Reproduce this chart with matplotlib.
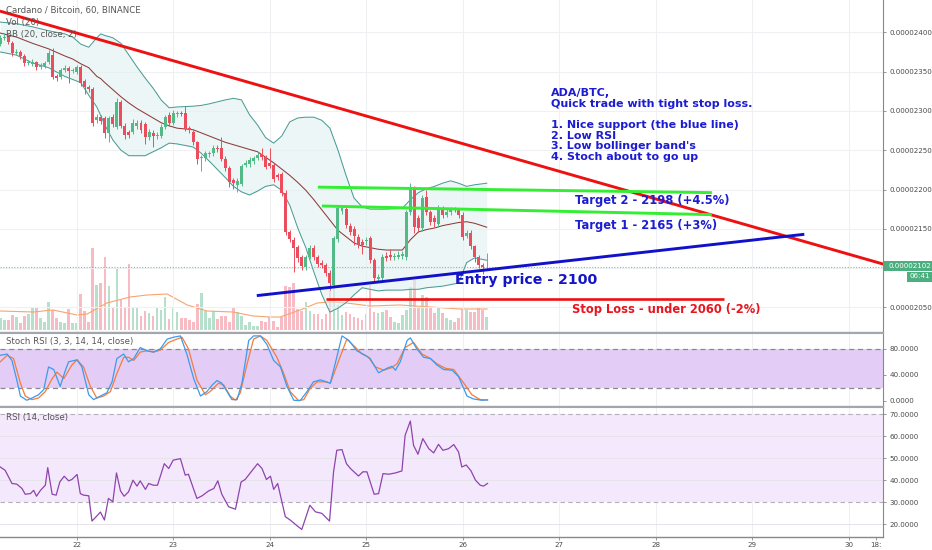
import matplotlib
matplotlib.use('Agg')
import matplotlib.pyplot as plt
from matplotlib.patches import Rectangle
import numpy as np

W, H = 932, 550

# hourly candles, index 0 = 21st 05:00 ; prices in satoshi (1e-8 BTC)
opens = [2385,2393,2394,2386,2374,2375,2370,2361,2360,2362,
         2356,2357,2362,2371,2344,2343,2352,2355,2351,2350,
         2356,2338,2330,2328,2288,2292,2291,2272,2292,2280,
         2311,2281,2273,2273,2281,2285,2283,2267,2272,2268,
         2268,2280,2295,2285,2296,2297,2297,2278,2273,2260,
         2240,2240,2245,2246,2253,2253,2239,2227,2212,2206,
         2207,2231,2232,2236,2240,2245,2241,2234,2231,2218,
         2220,2196,2146,2136,2127,2114,2101,2114,2126,2114,
         2107,2104,2094,2079,2137,2173,2175,2154,2150,2140,
         2133,2134,2138,2110,2086,2087,2115,2117,2114,2114,
         2115,2114,2171,2201,2164,2151,2190,2171,2164,2156,
         2176,2168,2171,2175,2174,2168,2141,2145,2128,2114,
         2104,2101]
closes = [2393,2394,2388,2374,2375,2370,2361,2362,2362,2356,
          2358,2361,2374,2343,2342,2352,2355,2351,2352,2356,
          2336,2330,2328,2285,2292,2287,2272,2291,2283,2311,
          2281,2269,2269,2285,2285,2276,2267,2273,2268,2269,
          2280,2292,2285,2297,2297,2296,2277,2276,2260,2239,
          2241,2246,2246,2253,2252,2239,2227,2210,2208,2211,
          2230,2234,2238,2240,2244,2241,2229,2230,2213,2216,
          2196,2146,2137,2126,2113,2103,2114,2126,2114,2105,
          2104,2094,2081,2138,2176,2176,2155,2146,2141,2129,
          2129,2136,2110,2087,2089,2114,2113,2114,2115,2117,
          2118,2171,2201,2152,2151,2189,2171,2159,2159,2176,
          2168,2171,2175,2174,2168,2140,2145,2128,2114,2104,
          2101,2102]
highs = [2397,2399,2397,2389,2379,2378,2372,2365,2366,2364,
         2361,2364,2378,2380,2347,2355,2358,2357,2355,2359,
         2358,2340,2333,2330,2296,2295,2294,2294,2296,2316,
         2314,2284,2276,2290,2289,2288,2286,2277,2276,2273,
         2283,2295,2298,2301,2300,2300,2306,2281,2276,2262,
         2244,2249,2249,2257,2256,2267,2242,2230,2215,2214,
         2233,2237,2241,2243,2248,2253,2244,2253,2234,2221,
         2222,2199,2149,2139,2130,2117,2117,2129,2129,2117,
         2110,2107,2097,2141,2180,2180,2178,2157,2153,2143,
         2137,2140,2141,2113,2093,2118,2120,2124,2119,2122,
         2122,2174,2208,2204,2168,2193,2199,2174,2168,2180,
         2179,2175,2178,2178,2177,2171,2149,2148,2130,2117,
         2107,2119]
lows = [2382,2390,2385,2370,2371,2366,2357,2358,2357,2352,
        2353,2354,2360,2340,2338,2340,2349,2336,2348,2347,
        2332,2322,2324,2281,2284,2283,2266,2260,2280,2277,
        2278,2264,2265,2270,2277,2272,2258,2263,2254,2264,
        2265,2277,2281,2282,2292,2293,2274,2272,2256,2233,
        2223,2236,2241,2243,2248,2236,2223,2203,2201,2197,
        2204,2228,2229,2233,2237,2238,2226,2227,2210,2212,
        2192,2142,2133,2095,2108,2098,2098,2111,2110,2101,
        2100,2090,2072,2076,2133,2169,2151,2142,2130,2125,
        2118,2130,2106,2083,2082,2084,2109,2110,2110,2111,
        2111,2110,2168,2145,2146,2147,2167,2155,2152,2152,
        2164,2165,2168,2171,2164,2136,2138,2124,2108,2100,
        2093,2098]
volumes = [12,10,10,15,13,7,14,16,22,23,
           12,8,28,20,12,8,7,21,7,7,
           36,19,8,82,45,47,73,44,22,62,
           30,23,66,22,22,14,19,17,14,22,
           20,33,11,22,18,12,12,10,8,26,
           37,19,12,19,11,14,14,8,22,18,
           14,5,8,4,4,9,8,13,9,3,
           13,44,43,47,21,19,28,19,16,16,
           11,16,40,45,25,15,18,16,13,12,
           10,16,45,18,17,18,20,13,8,7,
           15,20,43,50,23,35,33,23,17,23,
           17,12,10,8,12,21,20,18,18,22,
           20,13]

vol_ma_x = [0, 8.2, 13.1, 19.1, 21.6, 26.5, 32.3, 36.5, 41.5, 46.5, 51.4, 57.9,
            62.9, 67.1, 69.6, 74.6, 78.8, 82.0, 86.2, 92.0, 99.4, 106.9, 114.4, 121.1]
vol_ma = [19, 18, 20, 15, 16, 27, 33, 35, 36, 25, 19, 18,
          14, 13, 13, 20, 27, 28, 27, 24, 25, 23, 21, 21]

bb_x = [0, 4, 8, 12, 16, 18, 20, 22, 24, 25, 26, 28, 30, 32, 34, 36, 38, 40, 42, 44,
        48, 50, 52, 56, 58, 60, 62, 64, 66, 68, 70, 72, 74, 76, 78, 80, 82, 84, 86, 88,
        90, 92, 94, 96, 100, 102, 104, 106, 108, 110, 112, 114, 116, 118, 121]
bb_upper = [2413, 2411, 2407, 2402, 2398, 2394, 2385, 2381, 2393, 2398, 2396, 2393, 2386, 2371, 2356, 2342, 2329, 2314, 2304, 2305,
            2306, 2307, 2309, 2314, 2316, 2314, 2295, 2282, 2266, 2259, 2268, 2286, 2291, 2292, 2292, 2288, 2278, 2250, 2218, 2189,
            2178, 2175, 2175, 2175, 2176, 2187, 2196, 2201, 2204, 2208, 2211, 2208, 2204, 2206, 2208]
bb_mid = [2399, 2394, 2386, 2379, 2370, 2366, 2360, 2355, 2344, 2341, 2336, 2327, 2318, 2310, 2303, 2297, 2291, 2285, 2281, 2278,
          2276, 2272, 2268, 2260, 2257, 2254, 2251, 2248, 2241, 2234, 2226, 2218, 2209, 2199, 2187, 2174, 2161, 2148, 2140, 2132,
          2128, 2126, 2124, 2123, 2123, 2136, 2146, 2149, 2151, 2154, 2156, 2158, 2159, 2157, 2152]
bb_lower = [2375, 2371, 2361, 2355, 2344, 2340, 2336, 2320, 2305, 2294, 2282, 2263, 2250, 2243, 2243, 2243, 2248, 2253, 2259, 2258,
            2254, 2246, 2236, 2215, 2204, 2197, 2193, 2198, 2204, 2206, 2199, 2180, 2151, 2126, 2095, 2066, 2044, 2049, 2056, 2066,
            2075, 2073, 2071, 2072, 2072, 2073, 2073, 2075, 2076, 2077, 2079, 2081, 2107, 2113, 2110]

stoch_k_x = [0.0, 1.7, 2.9, 4.1, 5.0, 6.6, 7.9, 9.5, 10.8, 12.0, 13.3, 14.9, 16.2, 17.0, 19.1, 20.3, 22.0, 23.2, 24.9,
             26.5, 27.8, 29.0, 30.7, 31.9, 33.2, 34.8, 36.5, 38.1, 39.8, 41.5, 43.1, 44.8, 46.4, 48.1, 49.8, 51.4,
             52.7, 53.9, 55.1, 56.4, 57.6, 58.9, 60.1, 61.8, 63.0, 64.7, 66.3, 68.0, 69.7, 71.3, 73.0, 74.6, 76.3,
             77.9, 79.6, 82.1, 83.7, 85.0, 86.7, 88.7, 90.8, 92.0, 94.1, 96.2, 97.4, 98.3, 99.5, 101.2, 102.0,
             103.6, 105.3, 107.0, 108.6, 110.3, 112.4, 114.0, 116.1, 117.7, 119.8, 121.2]
stoch_k = [70, 72, 62, 32, 7, 0.5, 4, 9, 17, 52, 48, 22, 47, 60, 63, 52, 9, 1.5, 7,
           12, 29, 65, 72, 60, 65, 82, 77, 75, 80, 95, 98, 100, 72, 34, 7, 14,
           24, 31, 27, 14, 1.5, 1.5, 27, 93, 100, 100, 87, 62, 52, 22, 0.5, 0, 14,
           29, 32, 27, 67, 100, 93, 77, 70, 65, 43, 50, 53, 47, 60, 93, 97,
           80, 67, 65, 55, 48, 47, 37, 7, 2.5, 0.5, 1]
stoch_d_x = [0.0, 1.7, 3.3, 5.0, 6.2, 7.9, 9.5, 11.2, 12.9, 14.1, 15.8, 17.8, 19.1, 20.7, 22.4, 24.0, 25.7, 27.4,
             29.0, 30.7, 31.9, 33.2, 34.8, 36.5, 38.1, 39.8, 41.9, 43.9, 45.2, 46.8, 48.9, 51.0, 52.2, 54.3,
             55.6, 57.2, 58.5, 59.7, 61.4, 63.0, 64.7, 66.3, 68.8, 70.5, 72.1, 74.2, 75.5, 77.1, 78.8, 80.8,
             82.1, 84.2, 86.2, 87.9, 90.0, 91.6, 93.3, 95.4, 97.4, 98.7, 100.7, 102.8, 104.9, 107.0, 108.6,
             110.7, 112.8, 115.3, 117.3, 119.4, 121.2]
stoch_d = [60, 70, 65, 27, 7, 1.5, 4, 14, 34, 44, 34, 55, 63, 52, 22, 4, 7, 14,
           42, 67, 67, 62, 75, 77, 75, 78, 90, 95, 98, 80, 32, 9, 14, 27,
           24, 7, 0.5, 12, 57, 95, 100, 93, 67, 42, 14, 0, 1.5, 19, 29, 29,
           27, 62, 95, 85, 72, 67, 52, 47, 51, 57, 82, 90, 72, 65, 57,
           50, 48, 27, 9, 1.5, 1]

rsi_x = [0.0, 1.2, 2.9, 4.1, 5.4, 6.2, 7.5, 8.3, 9.0, 10.0, 11.2, 11.8, 12.9, 13.9, 14.8, 15.9, 17.0, 17.8,
         19.1, 19.9, 20.7, 22.0, 22.8, 24.0, 24.9, 25.9, 26.9, 28.0, 28.9, 29.9, 30.8, 31.9, 33.0, 34.0,
         34.8, 36.1, 36.9, 38.1, 39.1, 40.8, 41.9, 43.0, 44.8, 46.0, 46.8, 48.9, 50.2, 51.8, 53.1, 54.1,
         55.1, 56.8, 58.5, 59.9, 60.9, 62.4, 64.0, 65.1, 66.2, 67.2, 68.0, 69.0, 70.9, 72.1, 73.8, 75.0,
         77.0, 78.4, 80.0, 80.8, 81.9, 82.9, 83.7, 85.0, 86.1, 87.1, 89.1, 90.2, 91.2, 93.0, 94.1, 95.2,
         96.6, 98.3, 99.9, 100.7, 102.0, 102.8, 103.9, 105.1, 106.6, 107.8, 109.0, 110.1, 111.5, 112.8,
         114.0, 114.8, 115.9, 117.1, 118.2, 119.4, 120.2, 121.2]
rsi = [46.1, 44.6, 38.6, 38.3, 36.3, 33.7, 34.0, 35.5, 32.8, 35.5, 37.8, 45.8, 33.7, 33.3, 39.3, 41.9, 39.8, 40.4,
       42.7, 34.0, 33.3, 33.0, 21.5, 23.8, 25.6, 22.0, 31.8, 30.3, 43.4, 35.2, 32.8, 34.8, 40.1, 37.4,
       39.8, 35.9, 38.6, 37.8, 37.8, 47.6, 45.4, 49.2, 49.9, 42.4, 42.8, 31.8, 33.0, 35.2, 36.3, 39.8,
       33.7, 28.0, 26.9, 39.3, 40.4, 43.9, 47.6, 45.4, 40.4, 41.9, 35.9, 38.6, 23.5, 22.0, 19.4, 17.7,
       28.7, 25.7, 25.0, 23.5, 21.5, 43.9, 53.7, 54.0, 47.6, 45.4, 42.0, 43.9, 43.9, 33.7, 34.0, 43.1,
       42.8, 43.4, 44.3, 60.5, 67.0, 55.9, 51.9, 59.0, 54.4, 52.5, 56.4, 53.7, 54.4, 56.3,
       52.9, 46.1, 47.0, 44.3, 40.1, 37.8, 37.4, 38.6]

# drawings (x in hourly-candle index, y in satoshi)
trend_x = [-0.1, 219.7]
trend_y = [2427, 2105]
support_x = [63.8, 200.0]
support_y = [2065, 2143]
target2_x = [79.0, 177.0]
target2_y = [2203, 2196]
target1_x = [80.0, 177.0]
target1_y = [2179, 2168]
stop_x = [81.0, 179.9]
stop_y = [2061, 2061]
last_price = 2102

day_ticks = [19, 43, 67, 91, 115, 139, 163, 187, 211, 217.8]
day_labels = ['22', '23', '24', '25', '26', '27', '28', '29', '30', '18:']
price_ticks = [2050, 2100, 2150, 2200, 2250, 2300, 2350, 2400]
price_labels = ['0.00002050', '', '0.00002150', '0.00002200', '0.00002250',
                '0.00002300', '0.00002350', '0.00002400']
stoch_ticks = [0, 40, 80]
stoch_labels = ['0.0000', '40.0000', '80.0000']
rsi_ticks = [20, 30, 40, 50, 60, 70]
rsi_labels = ['20.0000', '30.0000', '40.0000', '50.0000', '60.0000', '70.0000']

assert len(opens) == len(closes) == len(highs) == len(lows) == len(volumes) == 122
assert len(bb_x) == len(bb_upper) == len(bb_mid) == len(bb_lower)
assert len(stoch_k_x) == len(stoch_k) and len(stoch_d_x) == len(stoch_d)
assert len(rsi_x) == len(rsi) and len(vol_ma_x) == len(vol_ma)

UP = '#53b987'
DN = '#eb4d5c'
GRID = '#eef0f3'
SEP = '#a3a6ad'
LBL = '#4a4a4a'

fig = plt.figure(figsize=(W / 100, H / 100), dpi=100)
fig.patch.set_facecolor('white')

def fr(x0, y0, x1, y1):
    return [x0 / W, 1 - y1 / H, (x1 - x0) / W, (y1 - y0) / H]

RX = 883.3
ax = fig.add_axes(fr(0, 0, RX, 332))
ax2 = fig.add_axes(fr(0, 333, RX, 405.5), sharex=ax)
ax3 = fig.add_axes(fr(0, 406.5, RX, 536.7), sharex=ax)

axv = ax.twinx()
ax.set_zorder(axv.get_zorder() + 1)
ax.patch.set_visible(False)
axv.patch.set_visible(False)

idx = np.arange(len(opens))
o = np.array(opens); c = np.array(closes)
hi = np.array(highs); lo = np.array(lows)
up = c >= o
cols = np.where(up, UP, DN)

# volume
vcols = np.where(up, '#b6e0cb', '#f7bcc3')
axv.bar(idx, volumes, width=0.65, color=vcols, linewidth=0, zorder=1)
axv.plot(vol_ma_x, vol_ma, color='#f7a46e', lw=0.8, zorder=2)
axv.set_ylim(-2, 330)
axv.set_yticks([])
for s in axv.spines.values():
    s.set_visible(False)

# grid
for t in day_ticks[:-1]:
    for a in (ax, ax2, ax3):
        a.axvline(t, color=GRID, lw=0.8, zorder=0)
for p in price_ticks:
    ax.axhline(p, color=GRID, lw=0.8, zorder=0)

# bollinger
ax.fill_between(bb_x, bb_lower, bb_upper, color='#e2f1f0', alpha=0.6, lw=0, zorder=1)
ax.plot(bb_x, bb_upper, color='#4c9c96', lw=0.75, zorder=1.5)
ax.plot(bb_x, bb_lower, color='#4c9c96', lw=0.75, zorder=1.5)
ax.plot(bb_x, bb_mid, color='#8e3b3b', lw=0.75, zorder=1.5)

# last price dotted line
ax.axhline(last_price, color='#53b987', ls=(0, (1, 1.5)), lw=0.8, alpha=0.8, zorder=2)

# candles
ax.vlines(idx, lo, hi, colors=cols, lw=0.7, zorder=3)
body_b = np.minimum(o, c)
body_h = np.maximum(np.abs(c - o), 0.9)
ax.bar(idx, body_h, bottom=body_b, width=0.74, color=cols, linewidth=0, zorder=3.1)

# drawings
ax.plot(trend_x, trend_y, color='#ee1111', lw=2.1, solid_capstyle='butt', zorder=4)
ax.plot(support_x, support_y, color='#1111cc', lw=2.1, solid_capstyle='butt', zorder=4)
ax.plot(target2_x, target2_y, color='#33ee33', lw=2.1, solid_capstyle='butt', zorder=4)
ax.plot(target1_x, target1_y, color='#33ee33', lw=2.1, solid_capstyle='butt', zorder=4)
ax.plot(stop_x, stop_y, color='#ee1111', lw=1.9, solid_capstyle='butt', zorder=4)

ax.set_xlim(-0.075, 219.65)
ax.set_ylim(2018.7, 2441.1)

# stoch rsi panel
ax2.axhspan(20, 80, color='#e3cdf7', lw=0, zorder=0.5)
ax2.axhline(80, color='#8a8794', ls=(0, (4, 3)), lw=0.9, zorder=1)
ax2.axhline(20, color='#8a8794', ls=(0, (4, 3)), lw=0.9, zorder=1)
ax2.plot(stoch_k_x, stoch_k, color='#3d9be9', lw=0.9, zorder=3)
ax2.plot(stoch_d_x, stoch_d, color='#f47c3c', lw=0.9, zorder=2.9)
ax2.set_ylim(-7.6, 104.5)

# rsi panel
ax3.axhspan(30, 70, color='#f4e9fc', lw=0, zorder=0.2)
for v in (20, 40, 50, 60):
    ax3.axhline(v, color='#e6e3ea', lw=0.7, zorder=0.5)
ax3.axhline(70, color='#b5aebb', ls=(0, (4, 3)), lw=0.8, zorder=1)
ax3.axhline(30, color='#b5aebb', ls=(0, (4, 3)), lw=0.8, zorder=1)
ax3.plot(rsi_x, rsi, color='#8e44ad', lw=0.9, zorder=3)
ax3.set_ylim(14.4, 73.6)

# axes styling
for a, ticks, labels in ((ax, price_ticks, price_labels),
                         (ax2, stoch_ticks, stoch_labels),
                         (ax3, rsi_ticks, rsi_labels)):
    a.set_facecolor('none')
    a.yaxis.tick_right()
    a.set_yticks(ticks)
    a.set_yticklabels(labels)
    a.tick_params(axis='y', right=True, left=False, labelright=True, labelleft=False,
                  labelsize=5.1, labelcolor=LBL, color='#888888', length=2.5, width=0.6, pad=2)
    a.tick_params(axis='x', bottom=False, labelbottom=False)
    a.spines['left'].set_visible(False)
    a.spines['right'].set_color('#888888')
    a.spines['right'].set_linewidth(0.8)
    a.spines['top'].set_visible(False)
    a.spines['bottom'].set_color(SEP)
    a.spines['bottom'].set_linewidth(1.0)

ax2.spines['top'].set_visible(True)
ax2.spines['top'].set_color(SEP)
ax3.spines['top'].set_visible(True)
ax3.spines['top'].set_color(SEP)
ax3.spines['bottom'].set_color('#888888')

ax3.set_xticks(day_ticks)
ax3.set_xticklabels(day_labels)
ax3.tick_params(axis='x', bottom=True, labelbottom=True, labelsize=5.1, labelcolor=LBL,
                color='#888888', length=2, width=0.6, pad=1.5)

def ftxt(x, y, s, **kw):
    fig.text(x / W, 1 - y / H, s, **kw)

lab = dict(fontsize=6.2, color='#555555', va='center', ha='left')
ftxt(6, 11, 'Cardano / Bitcoin, 60, BINANCE', **lab)
ftxt(6, 22.5, 'Vol (20)', **lab)
ftxt(6, 34, 'BB (20, close, 2)', **lab)
ftxt(6, 341.7, 'Stoch RSI (3, 3, 14, 14, close)', **lab)
ftxt(6, 417.7, 'RSI (14, close)', **lab)

BLUE = '#1c1cd2'
note = [('ADA/BTC,', 93.3), ('Quick trade with tight stop loss.', 103.9),
        ('1. Nice support (the blue line)', 125.0), ('2. Low RSI', 135.6),
        ("3. Low bollinger band's", 146.2), ('4. Stoch about to go up', 156.7)]
for s, y in note:
    ftxt(551, y, s, fontsize=8, fontweight='bold', color=BLUE, va='center', ha='left')
ftxt(575, 200.7, 'Target 2 - 2198 (+4.5%)', fontsize=8.3, fontweight='bold', color=BLUE, va='center')
ftxt(575, 225.7, 'Target 1 - 2165 (+3%)', fontsize=8.3, fontweight='bold', color=BLUE, va='center')
ftxt(455, 280, 'Entry price - 2100', fontsize=10.2, fontweight='bold', color='#1414c8', va='center')
ftxt(571.7, 309.3, 'Stop Loss - under 2060 (-2%)', fontsize=8.3, fontweight='bold', color='#e8141e', va='center')

# current price label
fig.add_artist(Rectangle((884 / W, 1 - 271 / H), 48 / W, 10.5 / H, transform=fig.transFigure,
                         facecolor='#4caf80', edgecolor='none'))
fig.add_artist(Rectangle((907 / W, 1 - 281.5 / H), 25 / W, 10 / H, transform=fig.transFigure,
                         facecolor='#4caf80', edgecolor='none'))
ftxt(888.5, 265.8, '0.00002102', fontsize=5.1, color='white', va='center', ha='left')
ftxt(919.5, 276.5, '06:41', fontsize=5.1, color='white', va='center', ha='center')

fig.savefig('out.png', dpi=100, facecolor='white')
